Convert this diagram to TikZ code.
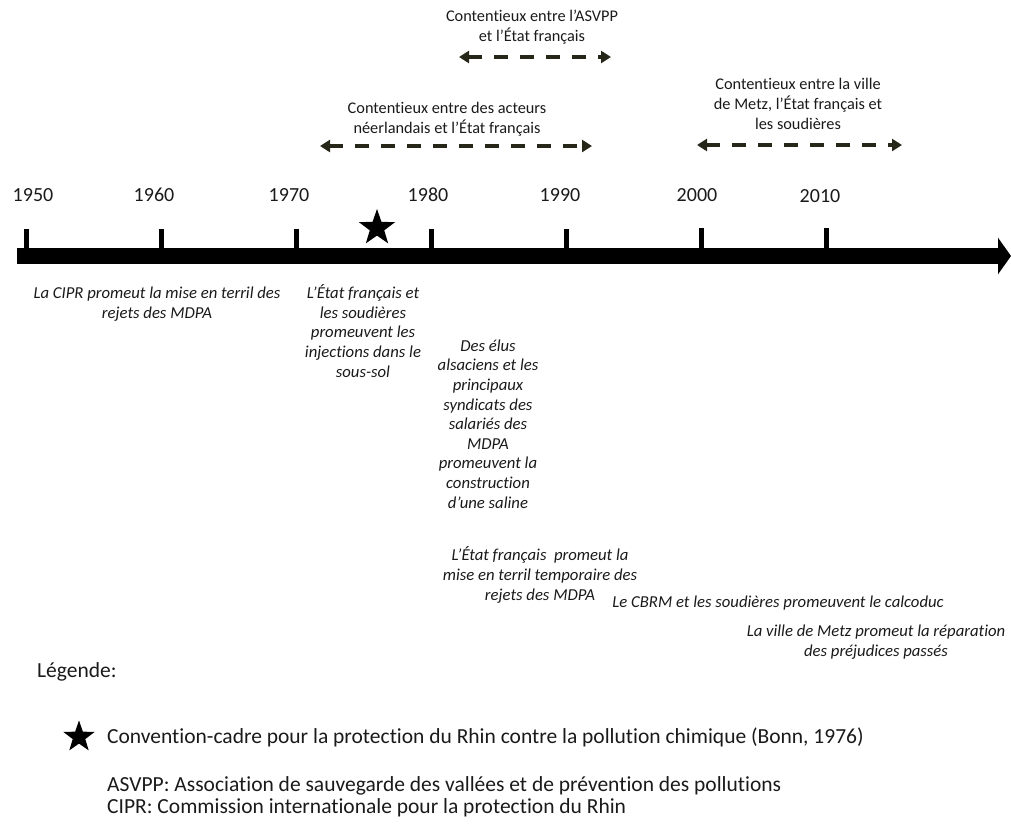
\documentclass[tikz,border=0pt]{standalone}
\usepackage{fontspec}
\setmainfont{Carlito}[Ligatures=NoCommon]
\usetikzlibrary{shapes.geometric, arrows.meta, positioning, calc}
\definecolor{darkline}{HTML}{262619}
\definecolor{textgray}{HTML}{1A1A1A}

\begin{document}
\begin{tikzpicture}[x=1pt, y=-1pt,
  timeline/.style={line width=16pt, -{Triangle[length=13pt,width=36pt]}},
  tickmark/.style={line width=5pt},
  yearlbl/.style={font=\fontsize{20}{24}\selectfont, text=textgray, inner sep=0pt},
  dispute/.style={{Triangle[length=10pt,width=12pt]}-{Triangle[length=10pt,width=12pt]},
    line width=3.5pt, dash pattern=on 14pt off 12pt, color=darkline},
  dlabel/.style={font=\fontsize{16.3}{20}\selectfont, text=textgray, align=center, inner sep=0pt},
  actor/.style={font=\fontsize{16.7}{19.6}\selectfont\itshape, text=textgray, align=center, inner sep=0pt},
  bonnstar/.style={star, star points=5, star point ratio=2.5, fill=black, inner sep=0pt},
  legendtxt/.style={font=\fontsize{21.5}{24}\selectfont, text=textgray, anchor=west, inner sep=0pt}
]
  \useasboundingbox (0,0) rectangle (1011,823);

  % Time axis
  \coordinate (tstart) at (17,256);
  \coordinate (tend)   at (1011,256);
  \draw[timeline] (tstart) -- (tend);

  % Ticks
  \draw[tickmark] (26.5,229) -- (26.5,250);
  \draw[tickmark] (161,229) -- (161,250);
  \draw[tickmark] (296,229) -- (296,250);
  \draw[tickmark] (431,229) -- (431,250);
  \draw[tickmark] (566,229) -- (566,250);
  \draw[tickmark] (701,228) -- (701,250);
  \draw[tickmark] (826,228) -- (826,250);

  % Years
  \node[yearlbl] (y1950) at (33,195)  {1950};
  \node[yearlbl] (y1960) at (154,195) {1960};
  \node[yearlbl] (y1970) at (289,195) {1970};
  \node[yearlbl] (y1980) at (428,195) {1980};
  \node[yearlbl] (y1990) at (560,195) {1990};
  \node[yearlbl] (y2000) at (697,195) {2000};
  \node[yearlbl] (y2010) at (820,196) {2010};

  % Bonn convention
  \node[bonnstar, minimum size=38pt] (bonn) at (377,228) {};

  % Disputes
  \node[dlabel] (asvpp) at (532,27) {Contentieux entre l’ASVPP\\et l’État français};
  \coordinate (asvppL) at (459,57);
  \coordinate (asvppR) at (611,57);
  \draw[dispute] (asvppL) -- (asvppR);

  \node[dlabel] (neerl) at (447,119) {Contentieux entre des acteurs\\néerlandais et l’État français};
  \coordinate (neerlL) at (320,146);
  \coordinate (neerlR) at (592,146);
  \draw[dispute] (neerlL) -- (neerlR);

  \node[dlabel] (metz) at (798,104) {Contentieux entre la ville\\de Metz, l’État français et\\les soudières};
  \coordinate (metzL) at (697,145);
  \coordinate (metzR) at (902,145);
  \draw[dispute] (metzL) -- (metzR);

  % Actors
  \node[actor] (cipr)    at (157,304) {La CIPR promeut la mise en terril des\\rejets des MDPA};
  \node[actor] (inject)  at (363,331) {L’État français et\\les soudières\\promeuvent les\\injections dans le\\sous-sol};
  \node[actor] (saline)  at (488,424) {Des élus\\alsaciens et les\\principaux\\syndicats des\\salariés des\\MDPA\\promeuvent la\\construction\\d’une saline};
  \node[actor] (terril)  at (540,575) {L’État français~~promeut la\\mise en terril temporaire des\\rejets des MDPA};
  \node[actor] (calco)   at (778,603) {Le CBRM et les soudières promeuvent le calcoduc};
  \node[actor] (repar)   at (876,642) {La ville de Metz promeut la réparation\\des préjudices passés};

  % Legend
  \node[legendtxt] (legend) at (37,672) {Légende:};
  \node[bonnstar, minimum size=33pt] (lstar) at (79,737) {};
  \node[legendtxt] (conv) at (107,737) {Convention-cadre pour la protection du Rhin contre la pollution chimique (Bonn, 1976)};
  \node[legendtxt] (asvppdef) at (107,786) {ASVPP: Association de sauvegarde des vallées et de prévention des pollutions};
  \node[legendtxt] (ciprdef)  at (107,808) {CIPR: Commission internationale pour la protection du Rhin};
\end{tikzpicture}
\end{document}
